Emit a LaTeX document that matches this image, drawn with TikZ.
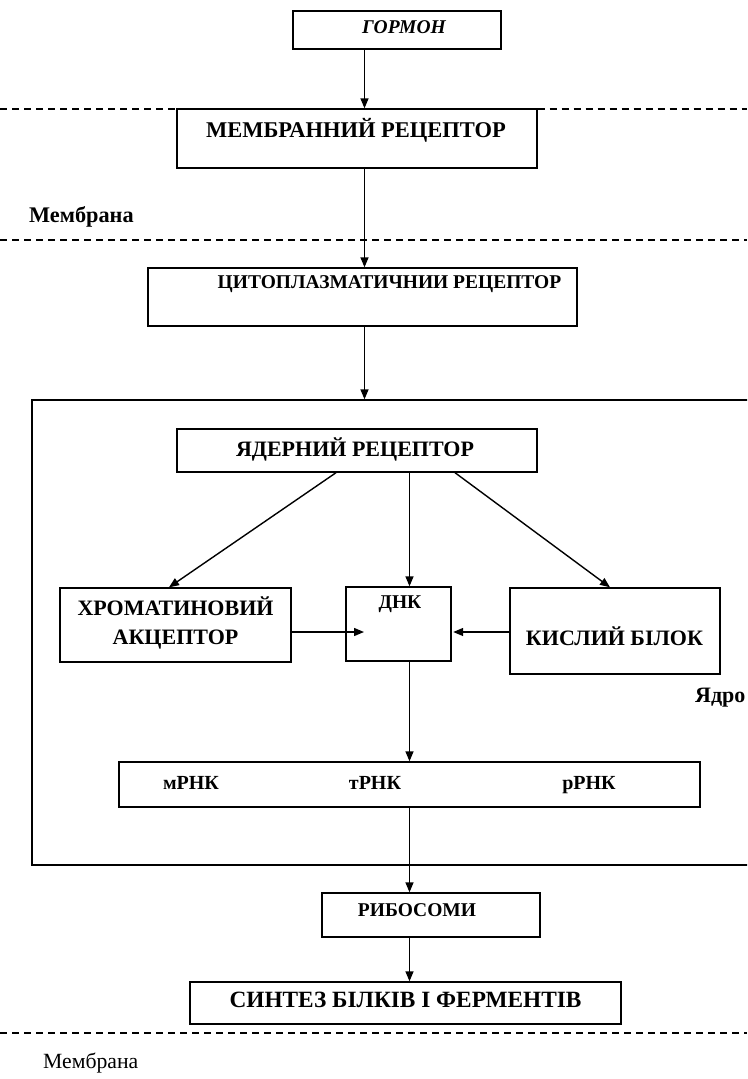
\documentclass[tikz,border=0pt]{standalone}
\usepackage{fontspec}
\setmainfont{Liberation Serif}
\usetikzlibrary{arrows.meta}
\begin{document}
\begin{tikzpicture}[x=1pt,y=-1pt,
  box/.style={draw, line width=1.4pt, inner sep=0pt},
  lbl/.style={font=\bfseries\fontsize{22}{24}\selectfont, inner sep=0pt, anchor=base},
  arr/.style={line width=1.4pt, -{Triangle[length=10pt,width=8pt]}},
  memline/.style={line width=1.3pt, dash pattern=on 7pt off 5pt}]
\clip (0,0) rectangle (747,1079);
\fill[white] (0,0) rectangle (747,1079);

% membrane dashed line ends
\coordinate (m1l) at (0,109);
\coordinate (m1r) at (747,109);
\coordinate (m2l) at (0,240);
\coordinate (m2r) at (747,240);
\coordinate (m3l) at (0,1033);
\coordinate (m3r) at (747,1033);

% boxes
\node[box, minimum width=208pt, minimum height=38pt] (gorm) at (397,30) {};
\node[box, minimum width=360pt, minimum height=59pt] (memb) at (357,138.5) {};
\node[box, minimum width=429pt, minimum height=58pt] (cyto) at (362.5,297) {};
\node[box, minimum width=760pt, minimum height=465pt] (nucl) at (412,632.5) {};
\node[box, minimum width=360pt, minimum height=43pt] (yad) at (357,450.5) {};
\node[box, minimum width=231pt, minimum height=74pt] (chrom) at (175.5,625) {};
\node[box, minimum width=105pt, minimum height=74pt] (dnk) at (398.5,624) {};
\node[box, minimum width=210pt, minimum height=86pt] (kisl) at (615,631) {};
\node[box, minimum width=581pt, minimum height=45pt] (rnk) at (409.5,784.5) {};
\node[box, minimum width=218pt, minimum height=44pt] (ribo) at (431,915) {};
\node[box, minimum width=431pt, minimum height=42pt] (synth) at (405.5,1003) {};

\draw[memline] (m1l) -- (m1l -| memb.west);
\draw[memline] (m1r -| memb.east) -- (m1r);
\draw[memline] (m2l) -- (m2r);
\draw[memline] (m3l) -- (m3r);

% texts
\node[lbl, font=\bfseries\itshape\fontsize{19.5}{21}\selectfont] (tg) at (404,33.5) {ГОРМОН};
\node[lbl, font=\bfseries\fontsize{22.5}{24}\selectfont] (tm) at (356,137) {МЕМБРАННИЙ РЕЦЕПТОР};
\node[lbl, anchor=base west, font=\bfseries\fontsize{22.3}{24}\selectfont] (tmem1) at (29,222.5) {Мембрана};
\node[lbl, font=\bfseries\fontsize{19.5}{21}\selectfont] (tc) at (389.5,288) {ЦИТОПЛАЗМАТИЧНИИ РЕЦЕПТОР};
\node[lbl] (ty) at (355,456) {ЯДЕРНИЙ РЕЦЕПТОР};
\node[lbl] (th1) at (175.5,615) {ХРОМАТИНОВИЙ};
\node[lbl] (th2) at (175.5,644) {АКЦЕПТОР};
\node[lbl, font=\bfseries\fontsize{19.5}{21}\selectfont] (td) at (400,608) {ДНК};
\node[lbl] (tk) at (614.5,645) {КИСЛИЙ БІЛОК};
\node[lbl, anchor=base west] (tya) at (695,702) {Ядро};
\node[lbl, font=\bfseries\fontsize{20}{22}\selectfont] (tr1) at (191,789) {мРНК};
\node[lbl, font=\bfseries\fontsize{20}{22}\selectfont] (tr2) at (375,789) {тРНК};
\node[lbl, font=\bfseries\fontsize{20}{22}\selectfont] (tr3) at (589,789) {рРНК};
\node[lbl, font=\bfseries\fontsize{19.5}{21}\selectfont] (tri) at (417,916) {РИБОСОМИ};
\node[lbl, font=\bfseries\fontsize{23.3}{25}\selectfont] (ts) at (405.5,1007.5) {СИНТЕЗ БІЛКІВ І ФЕРМЕНТІВ};
\node[lbl, anchor=base west, font=\fontsize{21.7}{23}\selectfont] (tmem2) at (43,1068) {Мембрана};

% column coordinates
\coordinate (c1) at (364.5,0);
\coordinate (c2) at (409.5,0);
\coordinate (yl) at (336,0);
\coordinate (yr) at (455,0);
\coordinate (cl) at (169,0);
\coordinate (kr) at (610,0);
\coordinate (hy) at (0,632);
\coordinate (dnkin) at (364,632);

% connectors
\draw[arr] (gorm.south -| c1) -- (memb.north -| c1);
\draw[arr] (memb.south -| c1) -- (cyto.north -| c1);
\draw[arr] (cyto.south -| c1) -- (nucl.north -| c1);
\draw[arr] (yad.south -| yl) -- (chrom.north -| cl);
\draw[arr] (yad.south -| c2) -- (dnk.north -| c2);
\draw[arr] (yad.south -| yr) -- (kisl.north -| kr);
\draw[arr] (chrom.east |- hy) -- (dnkin);
\draw[arr] (kisl.west |- hy) -- ([xshift=1.5pt]dnk.east |- hy);
\draw[arr] (dnk.south -| c2) -- (rnk.north -| c2);
\draw[arr] (rnk.south -| c2) -- (ribo.north -| c2);
\draw[arr] (ribo.south -| c2) -- (synth.north -| c2);
\end{tikzpicture}
\end{document}
